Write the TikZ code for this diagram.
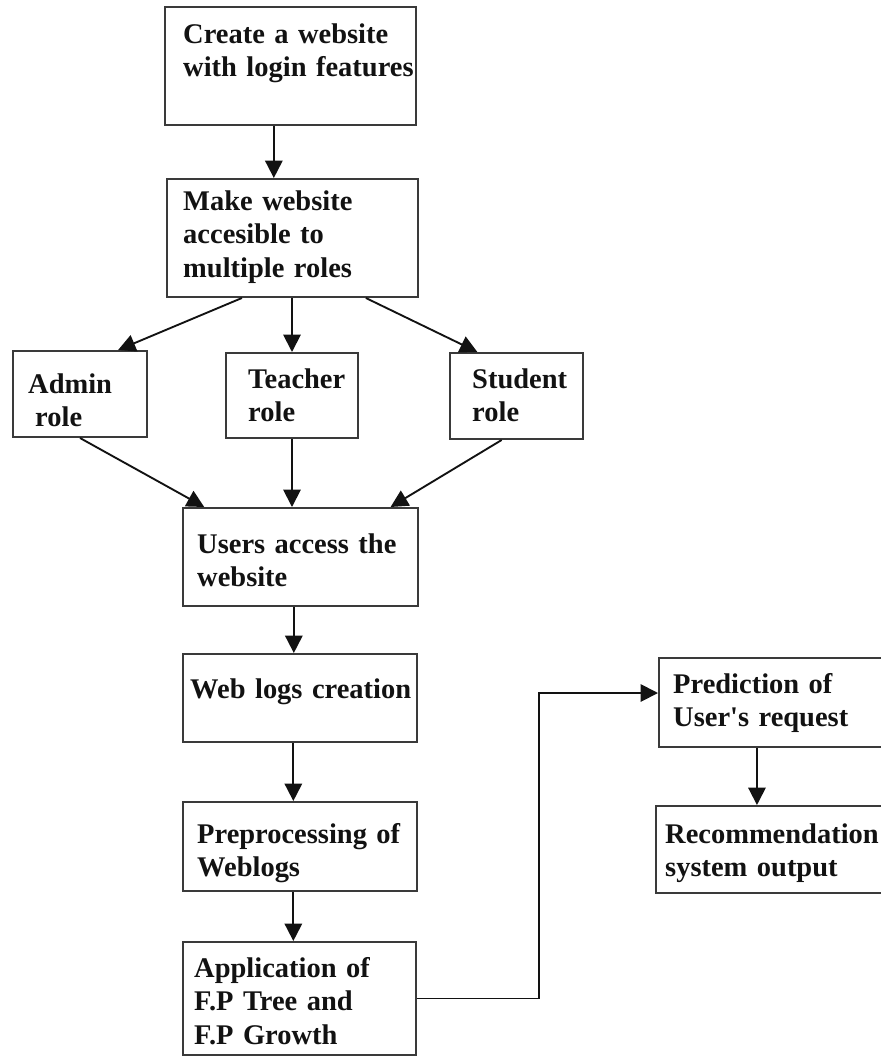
\documentclass[tikz,border=0pt]{standalone}
\usepackage{fontspec}
\setmainfont{Liberation Serif}
\usetikzlibrary{arrows.meta, calc, fit}
\definecolor{flowInk}{HTML}{121212}
\definecolor{flowFrame}{HTML}{3A3A3A}

\begin{document}
\begin{tikzpicture}[
    x=0.03cm, y=-0.03cm,
    box/.style={draw=flowFrame, line width=1.7pt, inner sep=0pt},
    txt/.style={
        anchor=base west,
        inner sep=0pt,
        text width=8cm,
        align=left,
        font=\fontsize{24.3}{28.6}\selectfont\bfseries,
        text=flowInk
    },
    arrow/.style={-{Triangle[length=5.2mm, width=5.2mm]}, draw=flowInk, line width=1.6pt},
    link/.style={draw=flowInk, line width=1.6pt}
]

% Page frame
\useasboundingbox (0,0) rectangle (881,1057);
\clip (0,0) rectangle (881,1057);

% Boxes
\node[box, fit={(165,7) (416,125)}] (create) {};
\node[box, fit={(167,179) (418,297)}] (multirole) {};
\node[box, fit={(13,351) (147,437)}] (admin) {};
\node[box, fit={(226,353) (358,438)}] (teacher) {};
\node[box, fit={(450,353) (583,439)}] (student) {};
\node[box, fit={(183,508) (418,606)}] (users) {};
\node[box, fit={(183,654) (417,742)}] (weblogs) {};
\node[box, fit={(183,802) (417,891)}] (preproc) {};
\node[box, fit={(183,942) (416,1055)}] (fpgrowth) {};
\node[box, fit={(659,658) (884,747)}] (prediction) {};
\node[box, fit={(656,806) (884,893)}] (recommend) {};

% Box texts
\node[txt] (createtext) at (183,43) {Create a website\\with login features};
\node[txt] (multiroletext) at (183,210) {Make website\\accesible to\\multiple roles};
\node[txt] (admintext) at (28,393) {Admin\\\hspace*{0.21cm}role};
\node[txt] (teachertext) at (248,388) {Teacher\\role};
\node[txt] (studenttext) at (472,388) {Student\\role};
\node[txt] (userstext) at (197,553) {Users access the\\website};
\node[txt] (weblogstext) at (190,698) {Web logs creation};
\node[txt] (preproctext) at (197,843) {Preprocessing of\\Weblogs};
\node[txt] (fpgrowthtext) at (194,977) {Application of\\F.P Tree and\\F.P Growth};
\node[txt] (predictiontext) at (673,693) {Prediction of\\User\textquotesingle s request};
\node[txt] (recommendtext) at (665,843) {Recommendation\\system output};

% Connectors
\draw[arrow] ([xshift=-5mm]create.south) -- ([xshift=-5mm]create.south |- multirole.north);

\draw[arrow] ($(multirole.south west)!0.30!(multirole.south east)$) -- ($(admin.north west)!0.78!(admin.north east)$);
\draw[arrow] (teacher.north |- multirole.south) -- (teacher.north);
\draw[arrow] ($(multirole.south west)!0.79!(multirole.south east)$) -- ($(student.north west)!0.21!(student.north east)$);

\draw[arrow] (admin.south) -- ($(users.north west)!0.094!(users.north east)$);
\draw[arrow] (teacher.south) -- (teacher.south |- users.north);
\draw[arrow] ($(student.south west)!0.39!(student.south east)$) -- ($(users.north west)!0.88!(users.north east)$);

\draw[arrow] ([xshift=-2mm]users.south) -- ([xshift=-2mm]users.south |- weblogs.north);
\draw[arrow] ([xshift=-2mm]weblogs.south) -- ([xshift=-2mm]weblogs.south |- preproc.north);
\draw[arrow] ([xshift=-2mm]preproc.south) -- ([xshift=-2mm]preproc.south |- fpgrowth.north);

\coordinate (bend) at (539,693);
\draw[arrow] (fpgrowth.east) -| (bend) -- (bend -| prediction.west);

\coordinate (predout) at ($(prediction.south west)!0.436!(prediction.south east)$);
\draw[arrow] (predout) -- (predout |- recommend.north);

\end{tikzpicture}
\end{document}
